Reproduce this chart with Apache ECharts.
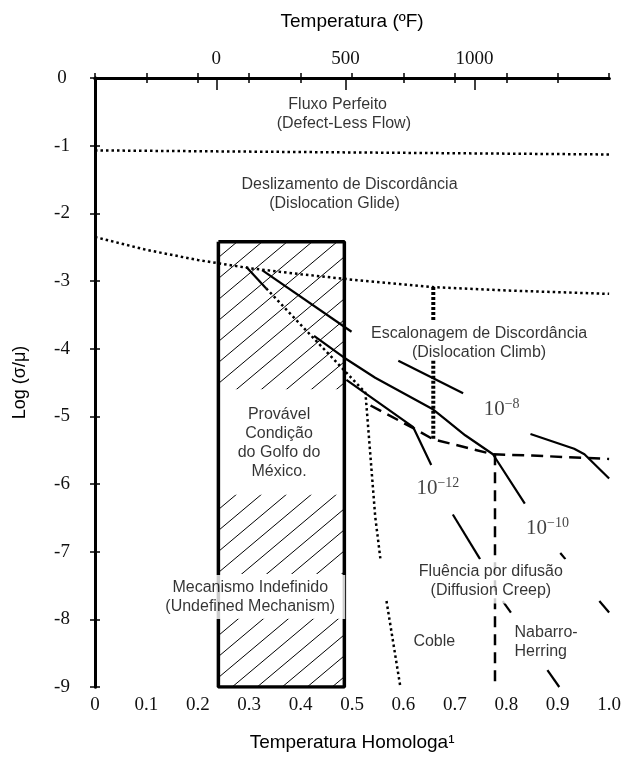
<!DOCTYPE html>
<html>
<head>
<meta charset="utf-8">
<script src="https://cdn.jsdelivr.net/npm/echarts@6/dist/echarts.min.js"></script>
<style>html,body{margin:0;padding:0;background:#fff}#main{width:624px;height:757px}</style>
</head>
<body>
<div id="main"></div>
<script>
// eixo superior: temperatura em ºF e onde cai na escala homóloga
const tempF = [0, 500, 1000];
const tempFAt = [0.236, 0.487, 0.738];
const topMinorTicks = [0.1, 0.2, 0.3, 0.4, 0.6, 0.7, 0.8, 0.9];

// fronteiras entre mecanismos (x = T homóloga, y = log(σ/μ)); null = quebra na linha
const defectLessBound = [[0, -1.07], [1, -1.13]];
const glideBound = [[0, -2.35], [0.1, -2.54], [0.2, -2.69], [0.3, -2.81], [0.4, -2.9], [0.5, -2.98], [0.658, -3.09], [0.8, -3.14], [1, -3.19]];
const climbSplit = [[0.658, -3.09], [0.658, -3.58], null, [0.658, -4.18], [0.658, -5.34]];
const diffusionBound = [[0.536, -4.84], [0.623, -5.19], [0.658, -5.34], [0.774, -5.56], [0.85, -5.58], [1, -5.63]];
const cobleNabarro = [[0.778, -5.56], [0.778, -9]];
const cobleBound = [[0.333, -3.11], [0.526, -4.65], [0.545, -6.48], [0.555, -7.1], null, [0.567, -7.73], [0.594, -9]];
const junction = [[0.294, -2.79], [0.333, -3.11]];

// contornos de taxa de deformação
const rate8 = [[0.325, -2.84], [0.499, -3.75], null, [0.59, -4.18], [0.716, -4.66], null, [0.847, -5.26], [0.932, -5.48], [0.952, -5.56], [1.0, -5.92]];
const rate10 = [[0.426, -3.81], [0.484, -4.13], [0.545, -4.43], [0.658, -4.9], [0.681, -5.04], [0.72, -5.28], [0.774, -5.56], [0.836, -6.29], null, [0.905, -7.02], [0.915, -7.11], null, [0.981, -7.73], [1.0, -7.9]];
const rate12 = [[0.489, -4.46], [0.619, -5.16], [0.654, -5.72], null, [0.696, -6.45], [0.749, -7.11], null, [0.793, -7.73], [0.809, -7.9], null, [0.88, -8.75], [0.903, -9.0]];

// caixa do Golfo do México e faixas hachuradas
const gulfBoxX = [0.24, 0.485];
const gulfBoxY = [-2.42, -9];
const hatchBands = [[-2.42, -4.6], [-6.16, -7.33], [-7.98, -9]];

const SANS = "'Liberation Sans', Arial, sans-serif";
const SERIF = "'Liberation Serif', 'Times New Roman', serif";

function pieces(pts) {
  const out = [[]];
  pts.forEach(p => { if (p === null) out.push([]); else out[out.length - 1].push(p); });
  return out;
}
function lines(pts, style) {
  return pieces(pts).map(seg => ({
    type: 'line', data: seg, symbol: 'none', silent: true, z: 3,
    lineStyle: Object.assign({ color: '#000' }, style)
  }));
}

function hatchPattern() {
  const w = 25, h = 21;
  const c = document.createElement('canvas');
  c.width = w; c.height = h;
  const g = c.getContext('2d');
  g.strokeStyle = '#000';
  g.lineWidth = 1;
  g.beginPath();
  g.moveTo(0, h); g.lineTo(w, 0);
  g.moveTo(-w, h); g.lineTo(0, 0);
  g.moveTo(w, 2 * h); g.lineTo(2 * w, h);
  g.moveTo(0, 2 * h); g.lineTo(w, h);
  g.moveTo(0, 0); g.lineTo(w, -h);
  g.stroke();
  return c;
}

const box = [
  [gulfBoxX[0], gulfBoxY[0]], [gulfBoxX[1], gulfBoxY[0]],
  [gulfBoxX[1], gulfBoxY[1]], [gulfBoxX[0], gulfBoxY[1]], [gulfBoxX[0], gulfBoxY[0]]
];

// textos das regiões
const notes = [
  { t: 'Fluxo Perfeito', p: [0.472, -0.40] },
  { t: '(Defect-Less Flow)', p: [0.484, -0.67] },
  { t: 'Deslizamento de Discordância', p: [0.495, -1.58] },
  { t: '(Dislocation Glide)', p: [0.466, -1.85] },
  { t: 'Escalonagem de Discordância\n(Dislocation Climb)', p: [0.747, -3.92] },
  { t: 'Provável\nCondição\ndo Golfo do\nMéxico.', p: [0.358, -5.40] },
  { t: 'Mecanismo Indefinido\n(Undefined Mechanism)', p: [0.302, -7.67], bg: [3, 10] },
  { t: 'Fluência por difusão\n(Diffusion Creep)', p: [0.77, -7.44], bg: [3, 3] },
  { t: 'Coble', p: [0.66, -8.33] },
  { t: 'Nabarro-\nHerring', p: [0.816, -8.34], left: true }
];
const rateNotes = [
  { t: '{b|10}{s|−8}', p: [0.791, -4.90] },
  { t: '{b|10}{s|−12}', p: [0.667, -6.07] },
  { t: '{b|10}{s|−10}', p: [0.880, -6.66] }
];

const chart = echarts.init(document.getElementById('main'));

const dotted = { width: 2.5, type: [2.5, 3] };
const solid = { width: 2.2 };
const dashed = { width: 2.5, type: [12, 7] };

const series = [].concat(
  [{
    type: 'line', data: box, symbol: 'none', silent: true, z: 4,
    lineStyle: { color: '#000', width: 3.5 },
    markArea: {
      silent: true,
      itemStyle: { color: { image: hatchPattern(), repeat: 'repeat' }, opacity: 1 },
      data: hatchBands.map(b => [{ coord: [gulfBoxX[0], b[0]] }, { coord: [gulfBoxX[1], b[1]] }])
    }
  }],
  lines(defectLessBound, dotted),
  lines(glideBound, dotted),
  lines(climbSplit, { width: 4, type: [3, 2] }),
  lines(diffusionBound, dashed),
  lines(cobleNabarro, { width: 2.5, type: [11, 7] }),
  lines(cobleBound, dotted),
  lines(junction, solid),
  lines(rate8, solid),
  lines(rate10, solid),
  lines(rate12, solid),
  [{
    type: 'scatter', symbolSize: 1, silent: true, z: 10,
    itemStyle: { color: 'rgba(0,0,0,0)' },
    data: notes.map(n => ({
      value: n.p,
      label: {
        show: true, position: 'inside', formatter: n.t,
        fontFamily: SANS, fontSize: 16, lineHeight: 19, color: '#000',
        align: n.left ? 'left' : 'center',
        backgroundColor: n.bg ? '#fff' : 'transparent',
        padding: n.bg || 0
      }
    })).concat(rateNotes.map(n => ({
      value: n.p,
      label: {
        show: true, position: 'inside', formatter: n.t,
        rich: {
          b: { fontFamily: SERIF, fontSize: 21, color: '#111', lineHeight: 24 },
          s: { fontFamily: SERIF, fontSize: 14, color: '#111', verticalAlign: 'top', lineHeight: 14 }
        }
      }
    })))
  }]
);

const option = {
  animation: false,
  backgroundColor: '#fff',
  grid: { left: 95, right: 12, top: 78, bottom: 65 },
  xAxis: [
    {
      type: 'value', position: 'bottom', min: 0, max: 1, interval: 0.1,
      name: 'Temperatura Homologa¹', nameLocation: 'middle', nameGap: 46,
      nameTextStyle: { fontFamily: SANS, fontSize: 19, color: '#000' },
      axisLine: { lineStyle: { color: '#000', width: 3 } },
      axisTick: { inside: true, length: 5, lineStyle: { color: '#000', width: 1.5 } },
      axisLabel: {
        fontFamily: SERIF, fontSize: 19, color: '#111', margin: 9,
        formatter: v => v === 0 ? '0' : v.toFixed(1)
      },
      splitLine: { show: false }
    },
    {
      type: 'value', position: 'top', min: 0, max: 1,
      axisLine: { lineStyle: { color: '#000', width: 3 } },
      axisTick: { inside: true, length: 5, customValues: topMinorTicks, lineStyle: { color: '#000', width: 1.5 } },
      axisLabel: { show: false },
      splitLine: { show: false }
    },
    {
      type: 'value', position: 'top', min: 0, max: 1,
      name: 'Temperatura (ºF)', nameLocation: 'middle', nameGap: 47,
      nameTextStyle: { fontFamily: SANS, fontSize: 19, color: '#000' },
      axisLine: { show: false },
      axisTick: { inside: true, length: 12, customValues: tempFAt, lineStyle: { color: '#000', width: 1.5 } },
      axisLabel: {
        customValues: tempFAt, fontFamily: SERIF, fontSize: 19, color: '#111', margin: 9,
        formatter: v => String(tempF[tempFAt.indexOf(v)])
      },
      splitLine: { show: false }
    }
  ],
  yAxis: [
    {
      type: 'value', position: 'left', min: -9, max: 0, interval: 1,
      name: 'Log (σ/μ)', nameLocation: 'middle', nameGap: 66, nameRotate: 90,
      nameTextStyle: { fontFamily: SANS, fontSize: 18, color: '#000' },
      axisLine: { lineStyle: { color: '#000', width: 3 } },
      axisTick: { inside: true, length: 5, lineStyle: { color: '#000', width: 1.5 } },
      axisLabel: { fontFamily: SERIF, fontSize: 19, color: '#111', margin: 33, align: 'center' },
      splitLine: { show: false }
    },
    {
      type: 'value', position: 'right', min: -9, max: 0, interval: 1,
      axisLine: { lineStyle: { color: '#000', width: 3 } },
      axisTick: { inside: true, length: 5, lineStyle: { color: '#000', width: 1.5 } },
      axisLabel: { show: false },
      splitLine: { show: false }
    }
  ],
  series: series
};

chart.setOption(option);
</script>
</body>
</html>
